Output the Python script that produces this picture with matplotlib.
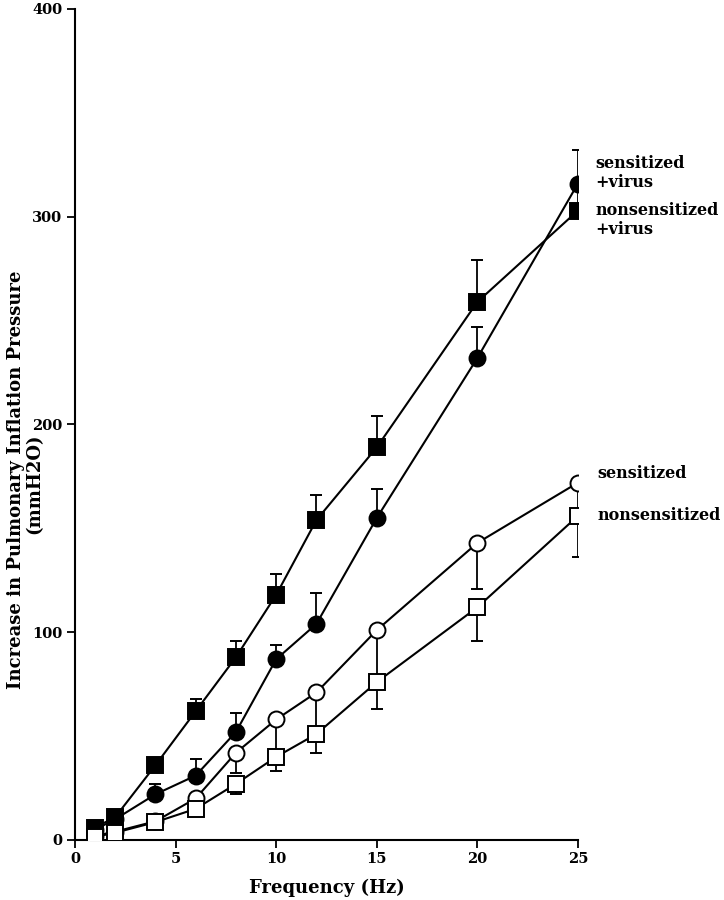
import matplotlib
matplotlib.use("Agg")
import matplotlib.pyplot as plt

freq = [1, 2, 4, 6, 8, 10, 12, 15, 20, 25]

# sensitized + virus (filled circles), error bars upward
sens_virus = [5, 10, 22, 31, 52, 87, 104, 155, 232, 316]
sens_virus_up = [0, 0, 5, 8, 9, 7, 15, 14, 15, 16]

# nonsensitized + virus (filled squares), error bars upward
nons_virus = [6, 11, 36, 62, 88, 118, 154, 189, 259, 303]
nons_virus_up = [0, 0, 0, 6, 8, 10, 12, 15, 20, 12]

# sensitized (open circles), error bars downward
sens = [2, 4, 9, 20, 42, 58, 71, 101, 143, 172]
sens_down = [0, 0, 0, 0, 10, 18, 20, 22, 22, 15]

# nonsensitized (open squares), error bars downward
nons = [1.5, 3.5, 8.6, 15, 27, 40, 51, 76, 112, 156]
nons_down = [0, 0, 3, 0, 5, 7, 9, 13, 16, 20]

plt.rcParams['font.family'] = ['DejaVu Serif']
plt.rcParams['font.weight'] = 'bold'

fig = plt.figure(figsize=(7.24, 9), dpi=100)
ax = fig.add_axes([0.1036, 0.0667, 0.6947, 0.9233])

zeros = [0] * len(freq)
kw = dict(color='black', lw=1.5, capsize=4, elinewidth=1.3, capthick=1.3,
          markeredgecolor='black', markeredgewidth=1.4)

ax.errorbar(freq, sens_virus, yerr=[zeros, sens_virus_up], fmt='-o',
            markersize=11.5, markerfacecolor='black', zorder=3, **kw)
ax.errorbar(freq, nons_virus, yerr=[zeros, nons_virus_up], fmt='-s',
            markersize=11, markerfacecolor='black', zorder=4, **kw)
ax.errorbar(freq, sens, yerr=[sens_down, zeros], fmt='-o',
            markersize=11.5, markerfacecolor='white', zorder=5, **kw)
ax.errorbar(freq, nons, yerr=[nons_down, zeros], fmt='-s',
            markersize=11, markerfacecolor='white', zorder=6, **kw)

ax.set_xlim(0, 25)
ax.set_ylim(0, 400)
ax.set_xticks([0, 5, 10, 15, 20, 25])
ax.set_yticks([0, 100, 200, 300, 400])
ax.spines['top'].set_visible(False)
ax.spines['right'].set_visible(False)
ax.spines['left'].set_linewidth(1.5)
ax.spines['bottom'].set_linewidth(1.5)
ax.tick_params(direction='out', length=6, width=1.3, labelsize=10.5, pad=3)
for lab in ax.get_xticklabels() + ax.get_yticklabels():
    lab.set_fontweight('bold')

ax.set_xlabel('Frequency (Hz)', fontsize=13, fontweight='bold', labelpad=9)

# y label as two rotated lines, placed like the original
fig.text(16 / 724, 1 - 480 / 900, 'Increase in Pulmonary Inflation Pressure',
         rotation=90, ha='center', va='center', fontsize=13, fontweight='bold')
fig.text(34 / 724, 1 - 484 / 900, '(mmH2O)',
         rotation=90, ha='center', va='center', fontsize=13, fontweight='bold')

tkw = dict(fontsize=11.5, fontweight='bold', va='center', ha='left',
           clip_on=False, linespacing=1.1)
ax.text(25.85, 321, 'sensitized\n+virus', **tkw)
ax.text(25.85, 298.5, 'nonsensitized\n+virus', **tkw)
ax.text(25.95, 176.5, 'sensitized', **tkw)
ax.text(25.95, 156, 'nonsensitized', **tkw)

fig.savefig('out.png', dpi=100)
